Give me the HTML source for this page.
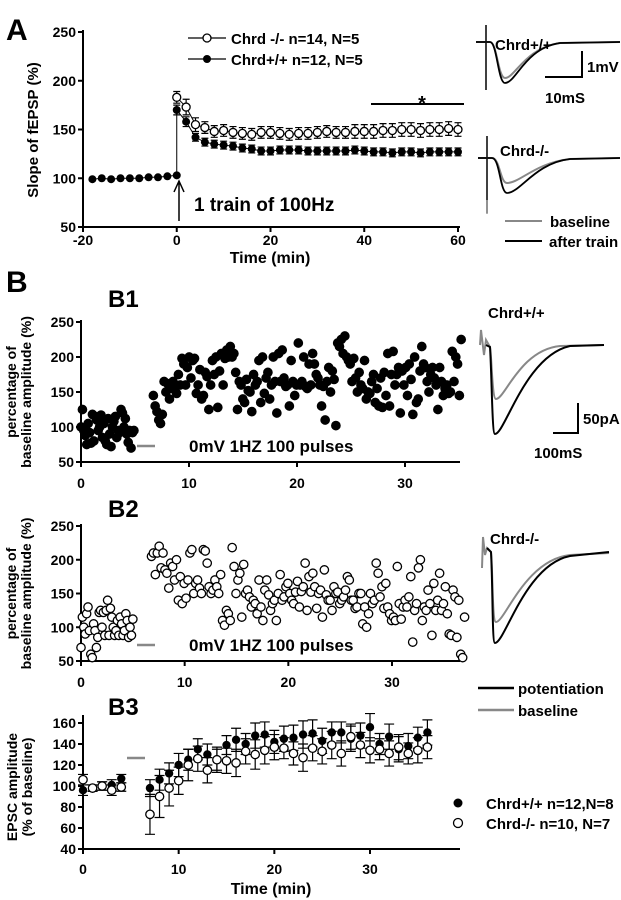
<!DOCTYPE html>
<html><head><meta charset="utf-8">
<style>
html,body{margin:0;padding:0;background:#fff;}
svg{display:block;font-family:"Liberation Sans",Arial,sans-serif;font-weight:bold;}
</style></head>
<body>
<svg id="fig" width="621" height="900" viewBox="0 0 621 900" xmlns="http://www.w3.org/2000/svg"></svg>
<script>
// ---------- Panel A data ----------
const aBaseTimes = [-18,-16,-14,-12,-10,-8,-6,-4,-2,0];
const aBaseVals = [99,100,99,100,100,100,101,101,102,103];
const aPostTimes = [0,2,4,6,8,10,12,14,16,18,20,22,24,26,28,30,32,34,36,38,40,42,44,46,48,50,52,54,56,58,60];
const aKO = [183,173,155,152,148,149,147,146,145,147,147,146,145,146,146,147,148,147,147,148,148,148,149,149,150,150,149,150,150,151,150];
const aKOerr = [6,8,7,6,6,6,6,6,6,6,6,6,6,6,6,6,6,6,6,7,7,7,7,7,7,7,7,7,7,7,7];
const aWT = [170,158,142,137,135,134,133,131,130,128,128,129,129,129,128,128,128,128,128,129,128,127,127,126,127,127,126,127,127,127,127];
const aWTerr = [5,5,4,4,4,4,4,4,4,4,4,4,4,4,4,4,4,4,4,4,4,4,4,4,4,4,4,4,4,4,4];
const aYTicks = [50,100,150,200,250];
const aXTicks = [-20,0,20,40,60];
// ---------- Panel B1 data ----------
const b1BaseRange = [0,4.9];
const b1Base = [100,125,95,88,75,105,92,77,118,80,115,110,95,100,117,85,105,80,75,112,90,72,100,108,115,85,95,92,125,120,100,112,90,78,95,70,92,95];
const b1PostRange = [6.7,35.2];
const b1Post = [145,130,122,110,105,118,165,150,162,140,155,165,158,148,175,160,198,190,160,185,200,170,195,198,148,160,182,140,145,178,172,125,160,195,175,200,128,180,205,160,198,210,200,215,200,205,178,125,165,160,140,135,168,152,150,122,175,160,165,195,135,200,148,170,178,140,160,200,165,120,205,165,210,170,158,160,130,195,165,145,160,220,160,165,200,158,155,190,160,205,190,175,170,160,130,158,110,165,185,150,180,168,102,220,215,225,205,230,200,195,190,165,198,170,150,178,160,155,195,140,150,148,165,175,135,155,130,170,128,178,145,205,130,175,208,160,175,185,120,180,160,185,145,190,168,118,200,135,140,180,215,190,185,165,150,175,185,170,160,125,185,165,145,155,160,148,150,208,165,200,190,145,225];
const bYTicks = [50,100,150,200,250];
const bXTicks = [0,10,20,30];
// ---------- Panel B2 data ----------
const b2BaseRange = [0,5];
const b2Base = [70,115,100,90,120,130,95,60,55,105,95,70,85,122,125,100,122,88,125,140,88,128,115,100,88,95,110,88,115,105,88,95,120,110,85,100,88,112];
const b2PostRange = [6.8,37];
const b2Post = [205,210,178,210,220,188,210,185,180,158,195,190,170,200,140,175,135,165,143,170,210,215,150,165,170,158,150,215,213,195,160,150,155,170,160,150,178,110,103,125,120,110,218,190,150,170,180,115,193,150,155,145,130,140,135,120,170,130,110,155,170,148,125,135,140,110,150,178,140,145,160,165,150,140,135,152,168,130,153,160,195,125,175,152,180,160,128,150,155,115,185,148,140,140,125,160,150,152,135,140,145,155,175,170,140,140,128,130,150,150,105,130,100,120,150,135,140,195,180,145,160,128,165,130,120,110,115,110,190,135,112,130,140,130,145,175,78,125,135,188,200,110,130,125,155,135,88,165,125,140,180,125,135,160,120,90,88,155,145,85,140,60,55,115];
// ---------- Panel B3 data ----------
const b3Times = [0,1,2,3,4,7,8,9,10,11,12,13,14,15,16,17,18,19,20,21,22,23,24,25,26,27,28,29,30,31,32,33,34,35,36];
const b3WT = [96,98,100,101,107,98,106,112,120,125,135,130,125,139,144,140,148,149,142,145,146,149,150,143,151,151,145,148,156,140,147,135,138,146,151];
const b3WTerr = [5,3,4,5,4,8,10,10,11,10,10,10,10,9,11,10,12,12,11,12,12,13,13,12,10,10,12,12,13,10,12,12,12,10,12];
const b3KO = [106,98,100,96,99,73,90,98,105,120,126,115,125,124,122,133,130,134,137,136,131,127,136,133,139,131,147,139,134,135,131,137,131,134,137];
const b3KOerr = [5,3,4,5,4,19,20,17,13,15,12,12,12,12,13,12,14,13,12,10,11,13,12,12,13,12,12,12,12,10,12,12,10,12,11];
const b3YTicks = [40,60,80,100,120,140,160];
const b3XTicks = [0,10,20,30];

const NS = "http://www.w3.org/2000/svg";
const svg = document.getElementById('fig');
function mk(tag, attrs, parent){
  const e = document.createElementNS(NS, tag);
  for (const k in attrs) e.setAttribute(k, attrs[k]);
  (parent||svg).appendChild(e);
  return e;
}
function txt(s, x, y, size, name, parent, anchor, rot){
  const t = mk('text', {x:x, y:y, 'font-size':size, fill:'#000', 'text-anchor':anchor||'start'}, parent);
  if (rot) t.setAttribute('transform', 'rotate(-90 '+x+' '+y+')');
  t.textContent = s;
  
  
  return t;
}
function scale(d0,d1,r0,r1){ return v => r0 + (v-d0)*(r1-r0)/(d1-d0); }
function axes(g, x0, x1, yTop, yBot, xs, ys, xt, yt, labY, fs){
  const ax = mk('path', {d:'M'+x0+' '+yTop+' L'+x0+' '+yBot+' L'+x1+' '+yBot, stroke:'#000', 'stroke-width':2, fill:'none'}, g);
  
  
  yt.forEach(v=>{
    const y = ys(v);
    mk('line',{x1:x0-5,x2:x0,y1:y,y2:y,stroke:'#000','stroke-width':2},g);
    txt(String(v), x0-7, y+5, fs, 'y-tick-label', g, 'end');
  });
  xt.forEach(v=>{
    const x = xs(v);
    mk('line',{x1:x,x2:x,y1:yBot,y2:yBot+5,stroke:'#000','stroke-width':2},g);
    txt(String(v), x, labY, fs, 'x-tick-label', g, 'middle');
  });
}
function group(name){ const g = mk('g',{});   return g; }

// ===== Panel A =====
{
const g = group('panel-a');
txt('A', 6, 40, 30, 'panel-label-a', g);
const xs = scale(-20,60,83,458), ys = scale(50,250,227,32);
axes(g, 83, 460, 30, 227, xs, ys, aXTicks, aYTicks, 245, 14);
txt('Slope of fEPSP (%)', 38, 130, 15, 'y-axis-title', g, 'middle', true);
txt('Time (min)', 270, 263, 16, 'x-axis-title', g, 'middle');
const lk = mk('polyline',{points:aPostTimes.map((t,i)=>xs(t)+','+ys(aKO[i])).join(' '),fill:'none',stroke:'#000','stroke-width':1},g);

const lw = mk('polyline',{points:aBaseTimes.map((t,i)=>xs(t)+','+ys(aBaseVals[i])).concat(aPostTimes.map((t,i)=>xs(t)+','+ys(aWT[i]))).join(' '),fill:'none',stroke:'#000','stroke-width':1},g);

aPostTimes.forEach((t,i)=>{
  const x=xs(t);
  mk('path',{d:'M'+x+' '+ys(aKO[i]-aKOerr[i])+' V'+ys(aKO[i]+aKOerr[i])+' M'+(x-3.5)+' '+ys(aKO[i]+aKOerr[i])+' h7 M'+(x-3.5)+' '+ys(aKO[i]-aKOerr[i])+' h7',stroke:'#000','stroke-width':1.2,fill:'none'},g);
  mk('path',{d:'M'+x+' '+ys(aWT[i]-aWTerr[i])+' V'+ys(aWT[i]+aWTerr[i])+' M'+(x-3.5)+' '+ys(aWT[i]+aWTerr[i])+' h7 M'+(x-3.5)+' '+ys(aWT[i]-aWTerr[i])+' h7',stroke:'#000','stroke-width':1.2,fill:'none'},g);
});
aBaseTimes.forEach((t,i)=>{
  const c=mk('circle',{cx:xs(t),cy:ys(aBaseVals[i]),r:4,fill:'#000'},g);
  
  
});
aPostTimes.forEach((t,i)=>{
  const c1=mk('circle',{cx:xs(t),cy:ys(aWT[i]),r:4,fill:'#000'},g);
  
  
  const c2=mk('circle',{cx:xs(t),cy:ys(aKO[i]),r:4,fill:'#fff',stroke:'#000','stroke-width':1.3},g);
  
  
});
mk('line',{x1:188,x2:226,y1:38,y2:38,stroke:'#000','stroke-width':1.3},g);
mk('circle',{cx:207,cy:38,r:4,fill:'#fff',stroke:'#000','stroke-width':1.3},g);
txt('Chrd -/-  n=14, N=5', 231, 44, 15, 'legend-entry-ko', g);
mk('line',{x1:188,x2:226,y1:59,y2:59,stroke:'#000','stroke-width':1.3},g);
mk('circle',{cx:207,cy:59,r:4,fill:'#000'},g);
txt('Chrd+/+ n=12, N=5', 231, 65, 15, 'legend-entry-wt', g);
mk('line',{x1:371,x2:464,y1:104,y2:104,stroke:'#000','stroke-width':2},g);
txt('*', 422, 110, 20, 'significance-star', g, 'middle');
mk('path',{d:'M179 221 V183 M174 192 L179 181 L184 192',stroke:'#000','stroke-width':1.5,fill:'none'},g);
txt('1 train of 100Hz', 194, 211, 19, 'stimulus-annotation', g);
const tg = group('panel-a-traces');
mk('line',{x1:486,x2:486,y1:25,y2:90,stroke:'#000','stroke-width':1.5},tg);
mk('path',{d:'M476 42 H490 C497 42 498 78 505 78 C515 78 525 48 560 43 L620 42',stroke:'#888','stroke-width':2,fill:'none'},tg);
mk('path',{d:'M476 42 H490 C497 42 498 83 505 83 C516 83 525 48 560 43 L620 42',stroke:'#000','stroke-width':1.8,fill:'none'},tg);
txt('Chrd+/+', 495, 50, 15, 'trace-label-wt', tg);
mk('path',{d:'M582 51 V77 H545',stroke:'#000','stroke-width':2,fill:'none'},tg);
txt('1mV', 587, 72, 15, 'scale-mv', tg);
txt('10mS', 545, 103, 15, 'scale-ms', tg);
mk('line',{x1:487,x2:487,y1:136,y2:213,stroke:'#000','stroke-width':1.5},tg);
mk('line',{x1:487,x2:487,y1:200,y2:214,stroke:'#999','stroke-width':1.5},tg);
mk('path',{d:'M478 158 H492 C500 158 500 183 507 183 C520 183 535 163 570 159 L620 158',stroke:'#888','stroke-width':2,fill:'none'},tg);
mk('path',{d:'M478 158 H492 C500 158 500 193 507 193 C520 193 535 163 570 159 L620 158',stroke:'#000','stroke-width':1.8,fill:'none'},tg);
txt('Chrd-/-', 500, 156, 15, 'trace-label-ko', tg);
mk('line',{x1:505,x2:542,y1:221,y2:221,stroke:'#888','stroke-width':2},tg);
txt('baseline', 550, 227, 15, 'legend-baseline', tg);
mk('line',{x1:505,x2:542,y1:241,y2:241,stroke:'#000','stroke-width':2},tg);
txt('after train', 549, 247, 15, 'legend-after-train', tg);
}

txt('B', 6, 292, 30, 'panel-label-b');

function scatterPanel(name, title, titleY, x1end, xMax, yTop, yBot, base, baseR, post, postR, filled){
  const g = group(name);
  txt(title, 108, titleY, 24, name+'-title', g);
  const xs = scale(0, xMax, 81, x1end), ys = scale(50,250,yBot,yTop);
  axes(g, 81, 460, yTop-2, yBot, xs, ys, bXTicks, bYTicks, yBot+26, 14);
  const cy = (yTop+yBot)/2;
  txt('percentage of', 16, cy, 14, 'y-axis-title-line1', g, 'middle', true);
  txt('baseline amplitude (%)', 31, cy, 14, 'y-axis-title-line2', g, 'middle', true);
  const draw = (arr, r, nm) => arr.forEach((v,i)=>{
    const t = r[0] + i*(r[1]-r[0])/(arr.length-1);
    const c = mk('circle',{cx:xs(t),cy:ys(v),r:4.2,fill:filled?'#000':'#fff',stroke:'#000','stroke-width':1.3},g);
    
    
  });
  draw(base, baseR, 'point-baseline');
  draw(post, postR, 'point-post');
  mk('line',{x1:137,x2:155,y1:yBot-16,y2:yBot-16,stroke:'#888','stroke-width':2.5},g);
  txt('0mV 1HZ 100 pulses', 189, yBot-10, 17, 'protocol-annotation', g);
  return g;
}
scatterPanel('panel-b1','B1',307, 405, 30, 322, 462, b1Base, b1BaseRange, b1Post, b1PostRange, true);
scatterPanel('panel-b2','B2',517, 392, 30, 526, 661, b2Base, b2BaseRange, b2Post, b2PostRange, false);

{
const g = group('panel-b-traces');
txt('Chrd+/+', 488, 318, 15, 'trace-label-wt', g);
mk('path',{d:'M480 345 L481 330 L484 355 L486 340 L490 347 C492 360 492 399 496 399 C505 399 520 350 560 346 L604 345',stroke:'#888','stroke-width':2,fill:'none'},g);
mk('path',{d:'M486 345 L490 347 C492 380 492 434 495 434 C505 434 525 356 570 346 L604 345',stroke:'#000','stroke-width':2,fill:'none'},g);
mk('path',{d:'M578 403 V433 H553',stroke:'#000','stroke-width':2,fill:'none'},g);
txt('50pA', 583, 424, 15, 'scale-pa', g);
txt('100mS', 534, 458, 15, 'scale-ms', g);
txt('Chrd-/-', 490, 544, 15, 'trace-label-ko', g);
mk('path',{d:'M482 568 L483 537 L485 555 L487 548 L491 552 C493 575 492 622 496 622 C505 622 525 560 570 555 L609 553',stroke:'#888','stroke-width':2,fill:'none'},g);
mk('path',{d:'M487 548 L491 552 C493 590 492 643 495 643 C505 643 525 565 570 556 L609 552',stroke:'#000','stroke-width':2,fill:'none'},g);
mk('line',{x1:478,x2:514,y1:688,y2:688,stroke:'#000','stroke-width':2.5},g);
txt('potentiation', 518, 694, 15, 'legend-potentiation', g);
mk('line',{x1:478,x2:514,y1:710,y2:710,stroke:'#888','stroke-width':2.5},g);
txt('baseline', 518, 716, 15, 'legend-baseline', g);
}

{
const g = group('panel-b3');
txt('B3', 108, 715, 24, 'panel-b3-title', g);
const xs = scale(0,30,83,370), ys = scale(40,160,849,723);
axes(g, 83, 460, 715, 849, xs, ys, b3XTicks, b3YTicks, 874, 14);
txt('EPSC amplitude', 17, 787, 14, 'y-axis-title-line1', g, 'middle', true);
txt('(% of baseline)', 32, 787, 14, 'y-axis-title-line2', g, 'middle', true);
txt('Time (min)', 271, 894, 16, 'x-axis-title', g, 'middle');
mk('line',{x1:127,x2:145,y1:758,y2:758,stroke:'#888','stroke-width':2.5},g);
const eb = (x,v,e)=>mk('path',{d:'M'+x+' '+ys(v-e)+' V'+ys(v+e)+' M'+(x-5)+' '+ys(v+e)+' h10 M'+(x-5)+' '+ys(v-e)+' h10',stroke:'#000','stroke-width':1.2,fill:'none'},g);
b3Times.forEach((t,i)=>{ eb(xs(t),b3WT[i],b3WTerr[i]); eb(xs(t),b3KO[i],b3KOerr[i]); });
b3Times.forEach((t,i)=>{
  const c1=mk('circle',{cx:xs(t),cy:ys(b3WT[i]),r:4.2,fill:'#000'},g);
  
  
  const c2=mk('circle',{cx:xs(t),cy:ys(b3KO[i]),r:4.2,fill:'#fff',stroke:'#000','stroke-width':1.3},g);
  
  
});
mk('circle',{cx:458,cy:803,r:4.5,fill:'#000'},g);
txt('Chrd+/+ n=12,N=8', 486, 809, 15, 'legend-entry-wt', g);
mk('circle',{cx:458,cy:823,r:4.5,fill:'#fff',stroke:'#000','stroke-width':1.3},g);
txt('Chrd-/- n=10, N=7', 486, 829, 15, 'legend-entry-ko', g);
}
</script>
</body></html>
